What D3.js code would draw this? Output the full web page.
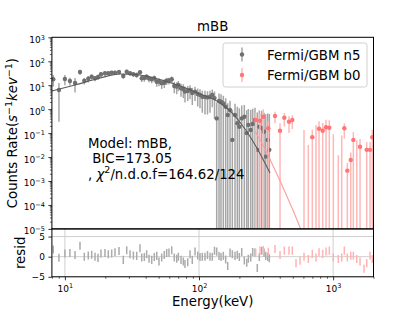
<!DOCTYPE html>
<html>
<head>
<meta charset="utf-8">
<script src="https://cdn.jsdelivr.net/npm/d3@7"></script>
<style>
body { margin: 0; background: #fff; }
text { font-family: "DejaVu Sans", sans-serif; }
</style>
</head>
<body>
<svg id="chart" width="415" height="311"></svg>
<script>
// ---- data ----
var n5Energy = [8.19, 9.03, 10.0, 10.9, 11.9, 12.96, 13.95, 14.94, 15.84, 16.77, 17.66, 18.58, 19.9, 21.07, 22.33, 23.63, 25.32, 27.25, 28.9, 30.6,
    32.4, 34.3, 36.3, 37.4, 39.1, 40.7, 42.4, 44.4, 46.4, 48.4, 50.3, 52.7, 55.1, 57.4, 59.7, 62.6, 65.4, 68.2, 70.1, 73.4,
    76.4, 78.6, 82.4, 85.7, 89.1, 93.4, 97.8, 101.7, 105.8, 110.8, 115.7, 120.8, 125.6, 130.5, 135.5, 141.0, 145.9, 151.8, 158.1, 163.7,
    170.3, 177.2, 185.5, 193.0, 199.8, 208.2, 217.7, 226.8, 233.2, 243.0, 251.4, 261.5, 272.0, 281.6, 293.4, 305.3, 314.3, 325.3, 334.4];
var n5Rate = [17.6, 6.3, 18.2, 15.0, 12.4, 35.6, 15.4, 18.7, 22.6, 19.4, 22.0, 28.5, 31.4, 31.4, 33.3, 33.3, 35.6, 24.2, 36.6, 31.4,
    28.5, 26.7, 34.6, 19.4, 20.0, 22.6, 19.0, 17.6, 19.4, 14.0, 14.3, 12.0, 12.7, 15.4, 15.7, 17.6, 9.3, 8.7, 10.2, 7.4,
    6.9, 5.4, 5.7, 6.3, 4.7, 5.4, 4.3, 3.9, 3.3, 3.2, 3.1, 3.3, 3.9, 2.9, 0.41, 2.2, 2.05, 1.75, 1.26, 0.57,
    0.92, 0.052, 0.57, 0.26, 0.185, 0.41, 0.48, 0.10, 0.22, 0.135, 0.24, 0.35, 0.020, 0.185, 0.16, 0.114, 0.0104, 0.052, 0.020];
var n5Err = [8.8, 6.0, 8.2, 5.3, 7.4, 8.9, 4.6, 5.6, 5.7, 4.9, 5.5, 6.3, 6.3, 6.3, 6.7, 6.7, 7.1, 6.0, 7.3, 6.3,
    6.3, 6.1, 6.9, 5.8, 6.0, 6.1, 5.7, 5.6, 5.8, 5.3, 5.3, 5.0, 5.1, 5.1, 5.0, 5.3, 4.7, 4.5, 4.6, 4.1,
    4.0, 3.5, 3.5, 3.7, 3.2, 3.2, 3.0, 2.8, 2.6, 2.6, 2.5, 2.6, 2.7, 2.5, 1.5, 2.3, 2.1, 1.9, 1.6, 1.2,
    1.3, 0.9, 1.1, 1.0, 0.9, 1.0, 1.0, 0.8, 0.8, 0.8, 0.8, 0.8, 0.7, 0.7, 0.7, 0.6, 0.6, 0.6, 0.6];
var n5Resid = [1.8, -0.25, 0.8, 0.9, 0.4, 2.7, 0, 0.3, 0.5, 0, -0.3, 0.8, 0.9, 0.6, 0.8, 1.1, 1.4, -0.8, 1.6, 0.6,
    0.3, 0.2, 2.1, -0.2, -0.1, 0.6, -0.5, -0.8, -0.1, 0.2, -1.2, -0.2, 0.4, 0.9, 1.0, 1.6, -0.2, -0.5, 0, -0.8,
    -1.2, -1.8, -1.4, 0.6, -0.8, 1.3, 0.3, -0.1, 0, 0, 0.4, 0, 0, 1.45, 1.25, 0.2, -0.1, 0.2, -0.7, -2.3,
    1.0, 0.6, 0.2, 0.5, -0.1, 1.15, -0.95, -1.5, -0.5, -0.2, 1.15, 1.0, -2.8, -0.1, 1.45, 1.0, 0.2, -0.1, -0.4];

var b0Energy = [264.7, 285.0, 301.6, 328.6, 368.7, 401.8, 432.5, 468.8, 496.2, 528.7, 566.4, 606.6, 653.1, 699.5, 745.4, 784.9,
    836.3, 885.1, 936.7, 1003, 1093, 1159, 1212, 1276, 1353, 1415, 1500, 1587, 1700, 1780, 1884, 1960];
var b0Rate = [0.35, 0.33, 0.48, 0.16, 0.52, 0.126, 0.44, 0.30, 0.35, -0.05, -0.03, 5e-6, 5e-6, 0.067, 3e-6, 0.153,
    0.126, 0.175, 0.168, 4e-6, 3e-6, 2e-6, 0.16, 0.0027, 0.0075, 0.052, 2e-6, 0.027, -0.05, 0.020, 0.020, 0.067];
var b0Err = [0.38, 0.35, 0.5, 0.17, 0.26, 0.13, 0.25, 0.2, 0.2, 0.03, 0.02, 0.135, 0.032, 0.073, 0.22, 0.16,
    0.14, 0.19, 0.18, 0.09, 0.012, 0.08, 0.1, 0.003, 0.008, 0.06, 0.05, 0.03, 0.02, 0.022, 0.022, 0.07];
var b0Resid = [1.0, 1.5, 1.65, 1.2, 1.9, 0.4, 1.5, 1.5, 1.5, -1.6, -1.0, 0, -0.6, 0.7, -0.2, 1.1,
    0.7, 1.3, 1.5, -0.2, -0.6, -0.2, 1.5, -0.2, 0.25, 0.25, -0.6, -1.2, -3.0, -1.6, 0.25, -0.6];

var n5ModelEnergy = [8.0, 11.9, 18.3, 25.8, 33.3, 43.1, 55.8, 76.0, 101.7, 143.4, 179.3, 220.3, 275.4, 338.4];
var n5ModelRate = [5.73, 10.2, 20.0, 29.4, 28.0, 22.0, 15.0, 8.4, 4.3, 1.81, 0.63, 0.148, 0.0197, 0.00216];
var b0ModelEnergy = [261.5, 310.7, 368.7, 437.8, 519.6, 617];
var b0ModelRate = [0.12, 0.0217, 0.00288, 3.5e-4, 3.8e-5, 3.4e-6];

var residErr = 1;
var xTicks = [10, 100, 1000];
var xMinor = [8, 9, 20, 30, 40, 50, 60, 70, 80, 90, 200, 300, 400, 500, 600, 700, 800, 900, 2000];
var yTicks = [1e-5, 1e-4, 1e-3, 1e-2, 1e-1, 1, 10, 100, 1000];
var residTicks = [-5, 0, 5];

var svg = d3.select("#chart");
var box = { left: 51.9, right: 373.5, top: 37.3, mid: 228.9, bottom: 276.8 };

var x = d3.scaleLog().domain([8, 2000]).range([box.left, box.right]);
var yMain = d3.scaleLog().domain([1e-5, 1e3]).range([box.mid, box.top]);
var yRes = d3.scaleLinear().domain([-5, 6.9]).range([box.bottom, box.mid]);

var yMinor = [];
yTicks.slice(0, -1).forEach(function(t) {
    for (var k = 2; k <= 9; k++) yMinor.push(t * k);
});

var defs = svg.append("defs");
defs.append("clipPath").attr("id", "clipMain").append("rect")
    .attr("x", box.left).attr("y", box.top)
    .attr("width", box.right - box.left).attr("height", box.mid - box.top);
defs.append("clipPath").attr("id", "clipRes").append("rect")
    .attr("x", box.left).attr("y", box.mid)
    .attr("width", box.right - box.left).attr("height", box.bottom - box.mid);

// ---- resid grid ----
var gGrid = svg.append("g").attr("clip-path", "url(#clipRes)");
xTicks.forEach(function(t) {
    gGrid.append("line").attr("x1", x(t)).attr("x2", x(t))
        .attr("y1", box.mid).attr("y2", box.bottom)
        .attr("stroke", "#cfcfcf").attr("stroke-width", 1);
});
residTicks.forEach(function(t) {
    gGrid.append("line").attr("x1", box.left).attr("x2", box.right)
        .attr("y1", yRes(t)).attr("y2", yRes(t))
        .attr("stroke", "#cfcfcf").attr("stroke-width", 1);
});

// ---- main panel data ----
var gMain = svg.append("g").attr("clip-path", "url(#clipMain)");

function drawErrors(g, E, R, S, barColor, dotColor) {
    E.forEach(function(e, i) {
        var hi = R[i] + S[i], lo = R[i] - S[i];
        if (hi <= 0) return;
        g.append("line")
            .attr("x1", x(e)).attr("x2", x(e))
            .attr("y1", yMain(hi))
            .attr("y2", lo > 0 ? yMain(lo) : box.mid + 10)
            .attr("stroke", barColor).attr("stroke-width", 1.5);
    });
    E.forEach(function(e, i) {
        if (R[i] <= 0) return;
        g.append("circle").attr("cx", x(e)).attr("cy", yMain(R[i]))
            .attr("r", 2.2).attr("fill", dotColor);
    });
}

drawErrors(gMain, n5Energy, n5Rate, n5Err, "#a6a6a6", "#707070");
drawErrors(gMain, b0Energy, b0Rate, b0Err, "#ffb8b8", "#ff7474");

var modelLine = d3.line()
    .x(function(d) { return x(d[0]); })
    .y(function(d) { return yMain(d[1]); })
    .curve(d3.curveMonotoneX);

gMain.append("path")
    .datum(d3.zip(n5ModelEnergy, n5ModelRate))
    .attr("fill", "none").attr("stroke", "#5a5a5a").attr("stroke-width", 1.1)
    .attr("d", modelLine);
gMain.append("path")
    .datum(d3.zip(b0ModelEnergy, b0ModelRate))
    .attr("fill", "none").attr("stroke", "#ff9c9c").attr("stroke-width", 1.1)
    .attr("d", modelLine);

// ---- resid data ----
var gRes = svg.append("g").attr("clip-path", "url(#clipRes)");
function drawResid(E, Rs, color) {
    E.forEach(function(e, i) {
        gRes.append("line").attr("x1", x(e)).attr("x2", x(e))
            .attr("y1", yRes(Rs[i] + residErr)).attr("y2", yRes(Rs[i] - residErr))
            .attr("stroke", color).attr("stroke-width", 1.5);
    });
}
drawResid(n5Energy, n5Resid, "#ababab");
drawResid(b0Energy, b0Resid, "#ffb3b3");

// ---- frames ----
[[box.top, box.mid], [box.mid, box.bottom]].forEach(function(p) {
    svg.append("rect").attr("x", box.left).attr("y", p[0])
        .attr("width", box.right - box.left).attr("height", p[1] - p[0])
        .attr("fill", "none").attr("stroke", "#000").attr("stroke-width", 1);
});

// ---- axes ----
function supLabels(sel, expFn) {
    sel.selectAll(".tick text").each(function(d) {
        d3.select(this).append("tspan")
            .attr("dy", "-0.5em").attr("font-size", "6.5px")
            .text(expFn(d));
    });
}
function styleAxis(g) {
    g.select(".domain").remove();
    g.selectAll(".tick line").attr("stroke", "#000").attr("stroke-width", 0.8);
    g.selectAll("text").attr("font-family", "DejaVu Sans").attr("font-size", 9).attr("fill", "#000");
}
function expText(d) {
    var p = Math.round(Math.log10(d));
    return (p < 0 ? "\u2212" + (-p) : "" + p);
}

var gy = svg.append("g").attr("transform", "translate(" + box.left + ",0)")
    .call(d3.axisLeft(yMain).tickValues(yTicks).tickSize(3.5).tickPadding(3.5)
        .tickFormat(function() { return "10"; }));
styleAxis(gy);
supLabels(gy, expText);
gy.selectAll(".tick text").attr("dy", "0.55em");

var gyMinor = svg.append("g").attr("transform", "translate(" + box.left + ",0)")
    .call(d3.axisLeft(yMain).tickValues(yMinor).tickSize(2).tickFormat(""));
styleAxis(gyMinor);
gyMinor.selectAll(".tick line").attr("stroke-width", 0.6);

var gr = svg.append("g").attr("transform", "translate(" + box.left + ",0)")
    .call(d3.axisLeft(yRes).tickValues(residTicks).tickSize(3.5).tickPadding(3.5)
        .tickFormat(function(d) { return d < 0 ? "\u2212" + (-d) : "" + d; }));
styleAxis(gr);

var gx = svg.append("g").attr("transform", "translate(0," + box.bottom + ")")
    .call(d3.axisBottom(x).tickValues(xTicks).tickSize(3.5).tickPadding(5)
        .tickFormat(function() { return "10"; }));
styleAxis(gx);
supLabels(gx, expText);

var gxMinor = svg.append("g").attr("transform", "translate(0," + box.bottom + ")")
    .call(d3.axisBottom(x).tickValues(xMinor).tickSize(2).tickFormat(""));
styleAxis(gxMinor);
gxMinor.selectAll(".tick line").attr("stroke-width", 0.6);

// ---- labels ----
var fs = 13.3;
svg.append("text").attr("x", (box.left + box.right) / 2).attr("y", 30.7)
    .attr("text-anchor", "middle").attr("font-size", fs).text("mBB");

svg.append("text").attr("x", (box.left + box.right) / 2).attr("y", 305.5)
    .attr("text-anchor", "middle").attr("font-size", fs).text("Energy(keV)");

var yl = svg.append("text")
    .attr("transform", "translate(17," + (box.top + box.mid) / 2 + ") rotate(-90)")
    .attr("text-anchor", "middle").attr("font-size", fs);
yl.append("tspan").text("Counts Rate(");
yl.append("tspan").attr("font-style", "italic").text("s");
yl.append("tspan").attr("font-size", 9.5).attr("dy", -5).text("\u22121");
yl.append("tspan").attr("font-style", "italic").attr("dy", 5).text("kev");
yl.append("tspan").attr("font-size", 9.5).attr("dy", -5).text("\u22121");
yl.append("tspan").attr("dy", 5).text(")");

svg.append("text")
    .attr("transform", "translate(25," + (box.mid + box.bottom) / 2 + ") rotate(-90)")
    .attr("text-anchor", "middle").attr("font-size", fs).text("resid");

// ---- fit annotation ----
svg.append("text").attr("x", 88).attr("y", 147.5).attr("font-size", fs).text("Model: mBB,");
svg.append("text").attr("x", 88).attr("y", 162.6).attr("font-size", fs)
    .attr("xml:space", "preserve").text("\u00a0BIC=173.05");
var t3 = svg.append("text").attr("x", 88).attr("y", 178.8).attr("font-size", fs);
t3.append("tspan").text(", ");
t3.append("tspan").attr("font-style", "italic").text("\u03c7");
t3.append("tspan").attr("font-size", 9.5).attr("dy", -5.5).text("2");
t3.append("tspan").attr("dy", 5.5).text("/n.d.o.f=164.62/124");

// ---- legend ----
var legend = svg.append("g");
legend.append("rect").attr("x", 223).attr("y", 43).attr("width", 144).attr("height", 44)
    .attr("rx", 2.5).attr("fill", "#fff").attr("fill-opacity", 0.8)
    .attr("stroke", "#d0d0d0").attr("stroke-width", 1);
var legendItems = [
    { label: "Fermi/GBM n5", bar: "#a6a6a6", dot: "#707070" },
    { label: "Fermi/GBM b0", bar: "#ffb8b8", dot: "#ff7474" }
];
legendItems.forEach(function(d, i) {
    var cy = 54.5 + i * 20.5;
    legend.append("line").attr("x1", 242).attr("x2", 242)
        .attr("y1", cy - 7).attr("y2", cy + 7)
        .attr("stroke", d.bar).attr("stroke-width", 1.5);
    legend.append("circle").attr("cx", 242).attr("cy", cy).attr("r", 2.2).attr("fill", d.dot);
    legend.append("text").attr("x", 267).attr("y", cy + 5).attr("font-size", fs).text(d.label);
});
</script>
</body>
</html>
